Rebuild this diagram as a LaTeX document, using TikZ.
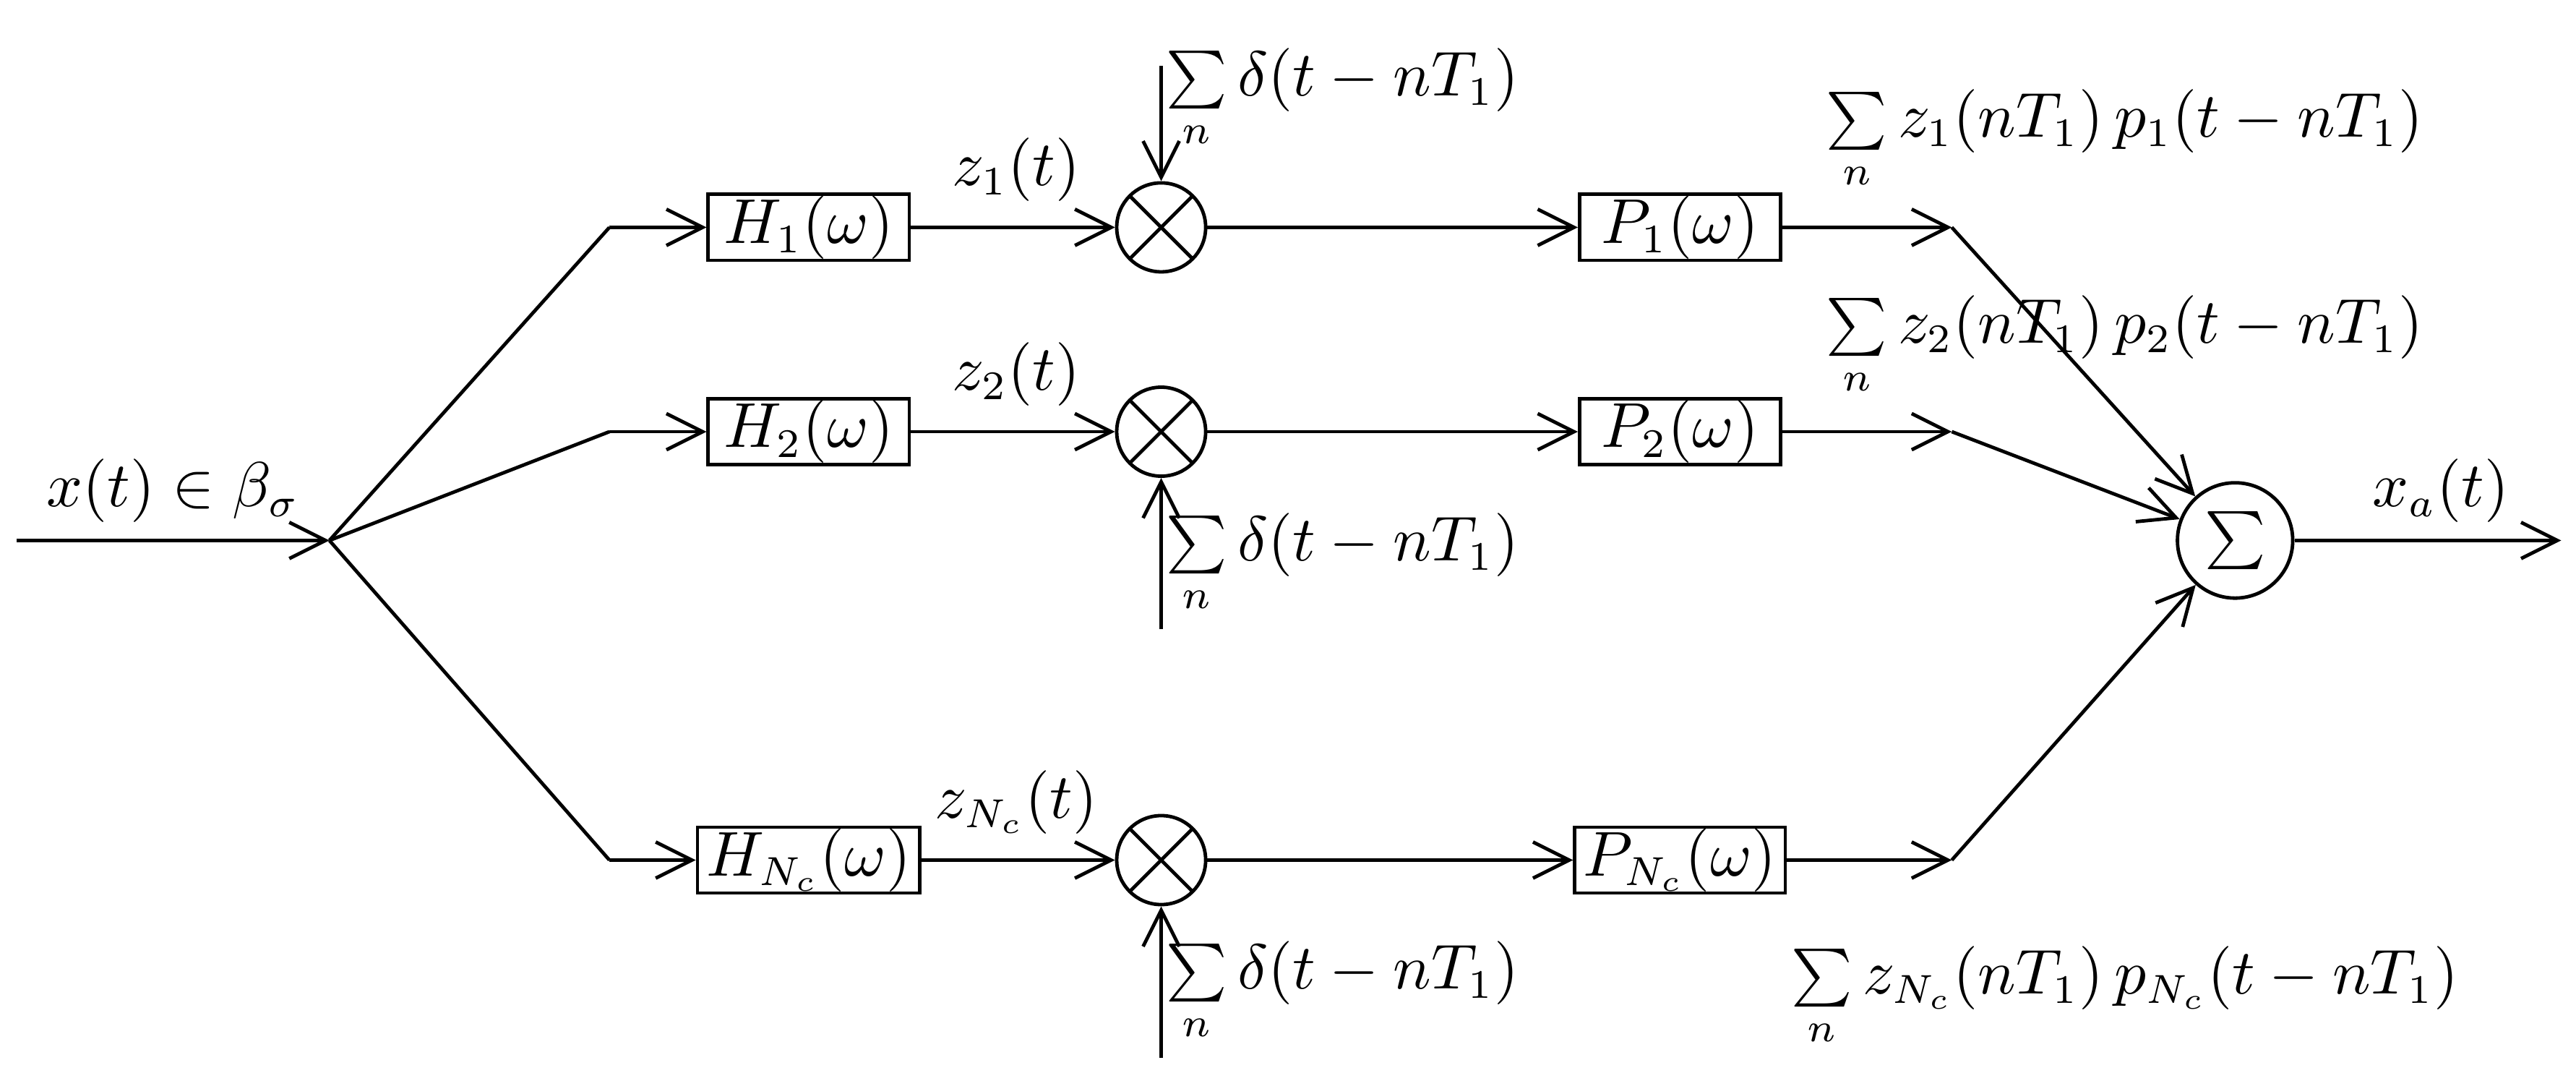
\documentclass[tikz,border=0pt]{standalone}
\usetikzlibrary{arrows.meta}
\begin{document}
\begin{tikzpicture}[x=0.1mm,y=-0.1mm,line width=0.6pt,
  font=\fontsize{10.5pt}{13pt}\selectfont,
  arr/.style={-{Straight Barb[length=2.2mm,width=2.2mm]}},
  blk/.style={draw,minimum width=12.2mm,minimum height=4mm,inner xsep=1.5pt,inner ysep=0pt},
  mul/.style={draw,circle,minimum size=5.4mm,inner sep=0pt,path picture={\draw (path picture bounding box.north west)--(path picture bounding box.south east) (path picture bounding box.north east)--(path picture bounding box.south west);}},
  lbl/.style={inner sep=0pt}]
\useasboundingbox (0,0) rectangle (1564,656);
% input
\coordinate (in) at (10,328);
\coordinate (br) at (200,328);
\draw[arr] (in) -- (br);
\node[lbl] (xl) at (105,298) {$x(t)\in\beta_\sigma$};
% rows
\foreach \r/\y/\s in {1/138/1,2/262/2,3/522/{N_c}}{
  \coordinate (k\r) at (370,\y);
  \node[blk] (H\r) at (491,\y) {$H_{\s}(\omega)$};
  \node[mul] (M\r) at (705,\y) {};
  \node[blk] (P\r) at (1020,\y) {$P_{\s}(\omega)$};
  \coordinate (e\r) at (1185,\y);
  \draw (br) -- (k\r);
  \draw[arr] (k\r) -- (H\r);
  \draw[arr] (H\r) -- (M\r);
  \draw[arr] (M\r) -- (P\r);
  \draw[arr] (P\r) -- (e\r);
  \node[lbl] (z\r) at (617,\y-35) {$z_{\s}(t)$};
}
\node[draw,circle,minimum size=7mm,inner sep=0pt] (S) at (1357,328) {\Large$\sum$};
\foreach \r in {1,2,3}{\draw[arr] (e\r) -- (S);}
\coordinate (out) at (1555,328);
\draw[arr] (S) -- (out);
\node[lbl] (xa) at (1482,298) {$x_a(t)$};
% delta inputs
\coordinate (d1) at (705,40);
\coordinate (d2) at (705,382);
\coordinate (d3) at (705,642);
\draw[arr] (d1) -- (M1);
\draw[arr] (d2) -- (M2);
\draw[arr] (d3) -- (M3);
\node[lbl] (D1) at (815,60) {$\sum\limits_n\delta(t-nT_1)$};
\node[lbl] (D2) at (815,342) {$\sum\limits_n\delta(t-nT_1)$};
\node[lbl] (D3) at (815,602) {$\sum\limits_n\delta(t-nT_1)$};
% output sums
\node[lbl] (O1) at (1290,85) {$\sum\limits_n z_1(nT_1)\,p_1(t-nT_1)$};
\node[lbl] (O2) at (1290,210) {$\sum\limits_n z_2(nT_1)\,p_2(t-nT_1)$};
\node[lbl] (O3) at (1290,605) {$\sum\limits_n z_{N_c}(nT_1)\,p_{N_c}(t-nT_1)$};
\end{tikzpicture}
\end{document}
